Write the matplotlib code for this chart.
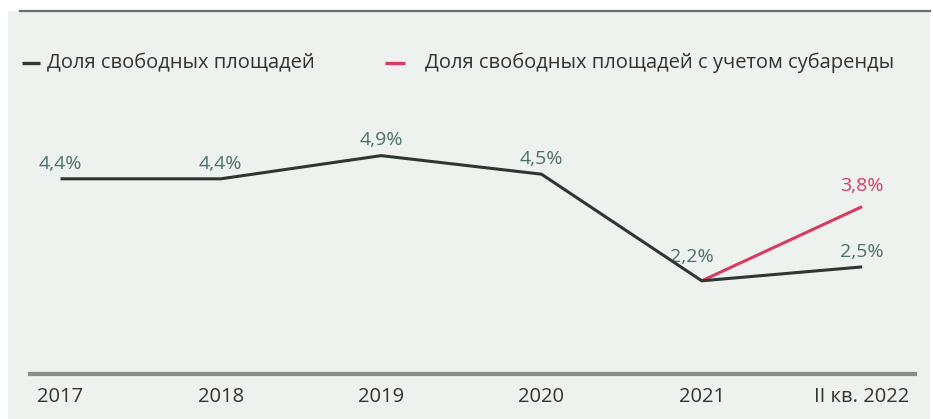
import matplotlib.pyplot as plt
from matplotlib.patches import Rectangle
from matplotlib.lines import Line2D

periods = ['2017', '2018', '2019', '2020', '2021', 'II кв. 2022']
vacancy = [4.4, 4.4, 4.9, 4.5, 2.2, 2.5]
sublease_periods = ['2021', 'II кв. 2022']
vacancy_sublease = [2.2, 3.8]
labels_main = ['4,4%', '4,4%', '4,9%', '4,5%', '2,2%', '2,5%']
labels_sub = ['', '3,8%']
legend_names = ['Доля свободных площадей', 'Доля свободных площадей с учетом субаренды']

bg = '#eef2ee'
dark = '#2f3532'
red = '#d93a62'
teal = '#4d6f6c'

plt.rcParams['font.family'] = ['Open Sans', 'DejaVu Sans']

W, H = 933, 419
fig = plt.figure(figsize=(W / 100, H / 100), dpi=100)
fig.patch.set_facecolor('white')
fig.add_artist(Rectangle((8 / W, 0), 922 / W, 1 - 11 / H,
                         transform=fig.transFigure, facecolor=bg, edgecolor='none', zorder=0))
fig.add_artist(Line2D([20 / W, 930 / W], [1 - 11 / H] * 2, transform=fig.transFigure,
                      color='#6b6f6d', lw=1.6, zorder=1))

ax = fig.add_axes([30 / W, 1 - 374 / H, 885 / W, 274 / H])
ax.set_facecolor('none')

x = list(range(len(periods)))
xs = [periods.index(p) for p in sublease_periods]

ax.plot(xs, vacancy_sublease, color=red, lw=2.2, zorder=3, solid_capstyle='butt')
ax.plot(x, vacancy, color=dark, lw=2.2, zorder=4, solid_capstyle='butt')

# value labels; the 2021 one sits higher and to the left so it clears both lines
for i, (xi, v, t) in enumerate(zip(x, vacancy, labels_main)):
    dx, dy = (-7, 17) if i == 4 else (0, 11)
    ax.annotate(t, (xi, v), xytext=(dx, dy), textcoords='offset points',
                ha='center', va='center', color=teal, fontsize=14)
for xi, v, t in zip(xs, vacancy_sublease, labels_sub):
    if t:
        ax.annotate(t, (xi, v), xytext=(0, 15), textcoords='offset points',
                    ha='center', va='center', color=red, fontsize=14)

ax.set_xlim(-0.19, 5.33)
ax.set_ylim(0.19, 6.1)
ax.set_xticks(x)
ax.set_xticklabels(periods, fontsize=14.5, color='#333333')
ax.tick_params(axis='x', length=0, pad=9)
ax.set_yticks([])
for s in ['top', 'left', 'right']:
    ax.spines[s].set_visible(False)
ax.spines['bottom'].set_color('#8a8c8b')
ax.spines['bottom'].set_linewidth(3)

# legend drawn by hand: short dash + label for each series
ly = 1 - 63 / H
for (x0, x1, tx), col, name in zip([(22, 40, 47), (385, 405, 425)], [dark, red], legend_names):
    fig.add_artist(Line2D([x0 / W, x1 / W], [ly, ly], transform=fig.transFigure,
                          color=col, lw=2.4, solid_capstyle='butt'))
    fig.text(tx / W, ly, name, ha='left', va='center', fontsize=14.5, color='#333333')

fig.savefig('out.png', dpi=100, facecolor=fig.get_facecolor())
